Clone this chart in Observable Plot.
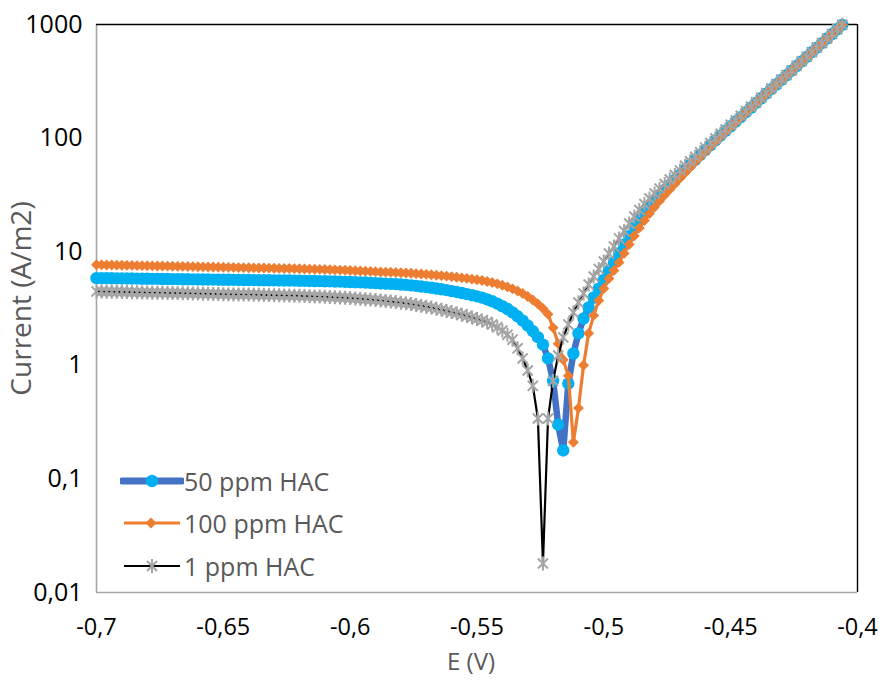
<!DOCTYPE html>
<html><head><meta charset="utf-8">
<script src="https://cdn.jsdelivr.net/npm/d3@7"></script>
<script src="https://cdn.jsdelivr.net/npm/@observablehq/plot@0.6"></script>
<style>
body{margin:0;background:#fff;}
#wrap{position:relative;width:879px;height:684px;font-family:"Open Sans",sans-serif;}
.leg{position:absolute;left:120px;height:30px;display:flex;align-items:center;font-size:25px;color:#595959;white-space:nowrap;}
.leg svg{display:block;}
</style></head><body><div id="wrap"></div>
<script>
// Potential E (V), one value every 2 mV
const E = [
-0.700,-0.698,-0.696,-0.694,-0.692,-0.690,-0.688,-0.686,-0.684,-0.682,
-0.680,-0.678,-0.676,-0.674,-0.672,-0.670,-0.668,-0.666,-0.664,-0.662,
-0.660,-0.658,-0.656,-0.654,-0.652,-0.650,-0.648,-0.646,-0.644,-0.642,
-0.640,-0.638,-0.636,-0.634,-0.632,-0.630,-0.628,-0.626,-0.624,-0.622,
-0.620,-0.618,-0.616,-0.614,-0.612,-0.610,-0.608,-0.606,-0.604,-0.602,
-0.600,-0.598,-0.596,-0.594,-0.592,-0.590,-0.588,-0.586,-0.584,-0.582,
-0.580,-0.578,-0.576,-0.574,-0.572,-0.570,-0.568,-0.566,-0.564,-0.562,
-0.560,-0.558,-0.556,-0.554,-0.552,-0.550,-0.548,-0.546,-0.544,-0.542,
-0.540,-0.538,-0.536,-0.534,-0.532,-0.530,-0.528,-0.526,-0.524,-0.522,
-0.520,-0.518,-0.516,-0.514,-0.512,-0.510,-0.508,-0.506,-0.504,-0.502,
-0.500,-0.498,-0.496,-0.494,-0.492,-0.490,-0.488,-0.486,-0.484,-0.482,
-0.480,-0.478,-0.476,-0.474,-0.472,-0.470,-0.468,-0.466,-0.464,-0.462,
-0.460,-0.458,-0.456,-0.454,-0.452,-0.450,-0.448,-0.446,-0.444,-0.442,
-0.440,-0.438,-0.436,-0.434,-0.432,-0.430,-0.428,-0.426,-0.424,-0.422,
-0.420,-0.418,-0.416,-0.414,-0.412,-0.410,-0.408,-0.406
];
// Current (A/m2) – 50 ppm HAC
const ppm50 = [
5.85,5.84,5.84,5.83,5.82,5.81,5.81,5.80,5.79,5.78,
5.78,5.77,5.76,5.75,5.75,5.74,5.73,5.72,5.72,5.71,
5.70,5.69,5.69,5.68,5.67,5.66,5.66,5.65,5.64,5.63,
5.63,5.62,5.61,5.60,5.60,5.59,5.58,5.57,5.57,5.56,
5.55,5.54,5.53,5.52,5.51,5.49,5.48,5.46,5.45,5.43,
5.41,5.39,5.37,5.35,5.32,5.29,5.25,5.23,5.21,5.18,
5.14,5.10,5.05,5.00,4.94,4.88,4.81,4.74,4.67,4.59,
4.50,4.42,4.33,4.23,4.14,4.04,3.94,3.80,3.66,3.49,
3.31,3.13,2.92,2.70,2.47,2.24,2.00,1.77,1.52,1.15,
0.73,0.30,0.178,0.69,1.27,1.91,2.58,3.23,3.95,4.73,
5.65,6.81,8.05,9.68,11.5,13.7,16.2,18.9,21.8,24.8,
27.9,31.3,34.8,38.6,42.9,47.5,52.7,58.3,64.4,71.1,
78.5,86.5,95.3,105,116,127,140,153,169,185,
204,224,246,270,296,325,357,392,431,473,
519,570,625,686,752,824,904,993
];
// Current (A/m2) – 100 ppm HAC
const ppm100 = [
7.67,7.66,7.64,7.63,7.61,7.60,7.58,7.57,7.55,7.54,
7.52,7.51,7.49,7.48,7.46,7.45,7.43,7.42,7.40,7.39,
7.37,7.36,7.34,7.33,7.31,7.30,7.28,7.27,7.25,7.24,
7.22,7.21,7.19,7.18,7.16,7.15,7.13,7.12,7.11,7.09,
7.07,7.05,7.03,7.01,6.99,6.97,6.95,6.92,6.89,6.86,
6.83,6.80,6.77,6.74,6.71,6.67,6.63,6.61,6.59,6.56,
6.53,6.49,6.46,6.41,6.37,6.32,6.27,6.21,6.15,6.09,
6.03,5.96,5.89,5.82,5.74,5.66,5.58,5.47,5.35,5.21,
5.07,4.90,4.71,4.51,4.29,4.03,3.76,3.47,3.16,2.82,
2.14,1.55,1.12,0.81,0.21,0.42,1.00,1.91,2.75,3.72,
4.74,5.81,6.84,8.05,9.66,11.6,13.8,16.2,18.8,21.7,
24.7,28.0,31.5,35.3,39.5,44.2,49.4,55.1,61.4,68.2,
75.7,83.9,92.9,103,114,125,138,152,168,184,
202,222,244,269,295,324,356,390,429,471,
518,568,624,684,750,824,904,993
];
// Current (A/m2) – 1 ppm HAC
const ppm1 = [
4.47,4.46,4.45,4.44,4.43,4.42,4.41,4.40,4.39,4.38,
4.37,4.36,4.36,4.35,4.34,4.33,4.32,4.31,4.30,4.29,
4.28,4.27,4.26,4.25,4.24,4.23,4.22,4.21,4.21,4.20,
4.19,4.18,4.17,4.16,4.15,4.14,4.13,4.12,4.11,4.10,
4.09,4.07,4.06,4.04,4.03,4.01,3.99,3.97,3.95,3.93,
3.91,3.88,3.85,3.82,3.79,3.76,3.72,3.68,3.64,3.60,
3.56,3.51,3.46,3.40,3.34,3.28,3.22,3.15,3.08,3.01,
2.94,2.87,2.79,2.72,2.64,2.56,2.48,2.40,2.29,2.16,
2.02,1.86,1.68,1.41,1.15,0.90,0.66,0.34,0.018,0.34,
0.73,1.22,1.76,2.29,2.92,3.57,4.29,5.14,6.05,7.05,
8.20,9.64,11.1,13.1,15.2,17.7,20.4,23.3,26.3,29.4,
32.6,35.9,39.4,43.2,47.3,51.9,57.0,62.5,68.5,75.2,
82.4,90.4,99.1,109,119,131,143,157,172,189,
207,227,249,273,299,328,360,394,433,475,
521,571,627,687,753,826,906,993
];
const seriesNames = ["50 ppm HAC", "100 ppm HAC", "1 ppm HAC"];
const xTicks = [-0.7, -0.65, -0.6, -0.55, -0.5, -0.45, -0.4];
const yTicks = [0.01, 0.1, 1, 10, 100, 1000];
const xTitle = "E (V)";
const yTitle = "Current (A/m2)";

const rows = (vals) => E.map((e, i) => ({E: e, I: vals[i]}));
const d50 = rows(ppm50), d100 = rows(ppm100), d1 = rows(ppm1);
const comma = d => String(d).replace(".", ",");

// Excel-like "star" marker: vertical bar plus an X
const star = {
  draw(ctx, size) {
    const r = Math.sqrt(size / Math.PI), d = r * 0.72;
    ctx.moveTo(0, -r); ctx.lineTo(0, r);
    ctx.moveTo(-d, -d); ctx.lineTo(d, d);
    ctx.moveTo(-d, d); ctx.lineTo(d, -d);
  }
};

const BLUE_LINE = "#4472C4", BLUE_DOT = "#00B0F0", ORANGE = "#ED7D31", GRAY = "#A5A5A5";

const chart = Plot.plot({
  width: 879, height: 684,
  marginLeft: 96, marginRight: 22, marginTop: 24, marginBottom: 92,
  style: {fontFamily: "'Open Sans', sans-serif", background: "white", overflow: "visible"},
  x: {domain: [xTicks[0], xTicks[xTicks.length - 1]]},
  y: {type: "log", domain: [yTicks[0], yTicks[yTicks.length - 1]]},
  marks: [
    Plot.ruleX([xTicks[0]], {stroke: "#A6A6A6", strokeWidth: 1.6}),
    Plot.ruleY([yTicks[0]], {stroke: "#A6A6A6", strokeWidth: 1.6}),
    Plot.ruleX([xTicks[xTicks.length - 1]], {stroke: "#000", strokeWidth: 1.4}),
    Plot.ruleY([yTicks[yTicks.length - 1]], {stroke: "#000", strokeWidth: 1.4}),
    Plot.axisX({ticks: xTicks, tickFormat: comma, tickSize: 0, tickPadding: 26, fontSize: 23.5, fill: "#000", label: null}),
    Plot.axisY({ticks: yTicks, tickFormat: comma, tickSize: 0, tickPadding: 14, fontSize: 25, fill: "#000", label: null}),
    Plot.text([yTitle], {frameAnchor: "left", textAnchor: "middle", dx: -74, dy: -10, rotate: -90, fontSize: 28, fill: "#595959"}),
    Plot.text([xTitle], {frameAnchor: "bottom", textAnchor: "middle", dx: -6, dy: 77, fontSize: 24, fill: "#595959"}),
    // 50 ppm
    Plot.line(d50, {x: "E", y: "I", stroke: BLUE_LINE, strokeWidth: 6.5, strokeLinejoin: "round"}),
    Plot.dot(d50, {x: "E", y: "I", r: 6.2, fill: BLUE_DOT, stroke: "none", symbol: "circle"}),
    // 100 ppm
    Plot.line(d100, {x: "E", y: "I", stroke: ORANGE, strokeWidth: 3.2, strokeLinejoin: "round"}),
    Plot.dot(d100, {x: "E", y: "I", r: 4.9, fill: ORANGE, stroke: "none", symbol: "diamond2"}),
    // 1 ppm
    Plot.line(d1, {x: "E", y: "I", stroke: "#000", strokeWidth: 2.2}),
    Plot.dot(d1, {x: "E", y: "I", r: 7, fill: "none", stroke: GRAY, strokeWidth: 2, symbol: star})
  ]
});

const wrap = document.getElementById("wrap");
wrap.appendChild(chart);

// Legend inside the plot area (bottom-left)
const legendTops = [466, 508, 551];
const swatches = [
  `<line x1="2" y1="15" x2="62" y2="15" stroke="${BLUE_LINE}" stroke-width="7" stroke-linecap="round"/><circle cx="32" cy="15" r="6.2" fill="${BLUE_DOT}"/>`,
  `<line x1="4" y1="15" x2="60" y2="15" stroke="${ORANGE}" stroke-width="3.2"/><path d="M31,9.5L36.5,15L31,20.5L25.5,15Z" fill="${ORANGE}"/>`,
  `<line x1="4" y1="15" x2="60" y2="15" stroke="#000" stroke-width="2.2"/><path d="M32,8V22M27,10L37,20M27,20L37,10" stroke="${GRAY}" stroke-width="2" fill="none"/>`
];
seriesNames.forEach((name, i) => {
  const div = document.createElement("div");
  div.className = "leg";
  div.style.top = legendTops[i] + "px";
  div.innerHTML = `<svg width="64" height="30" viewBox="0 0 64 30">${swatches[i]}</svg><span>${name}</span>`;
  wrap.appendChild(div);
});
</script></body></html>
